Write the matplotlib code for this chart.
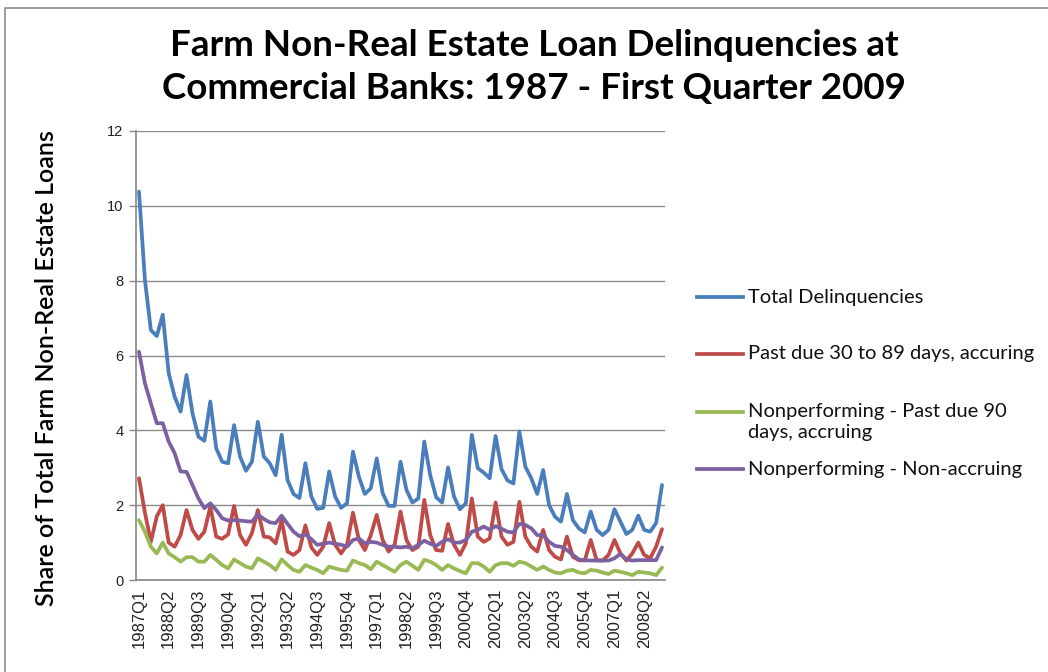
import matplotlib
matplotlib.use("Agg")
import matplotlib.pyplot as plt
from matplotlib.lines import Line2D
import numpy as np

# ---- data -------------------------------------------------------------
years = list(range(1987, 2010))
quarters = [f"{y}Q{q}" for y in years for q in range(1, 5)][:89]  # 1987Q1 .. 2009Q1

total = [10.38, 8.02, 6.68, 6.52, 7.09, 5.53, 4.90, 4.50, 5.48, 4.46, 3.83, 3.72,
         4.77, 3.52, 3.16, 3.12, 4.14, 3.30, 2.92, 3.16, 4.23, 3.30, 3.12, 2.80,
         3.88, 2.67, 2.30, 2.19, 3.12, 2.23, 1.90, 1.93, 2.90, 2.23, 1.93, 2.05,
         3.43, 2.76, 2.30, 2.45, 3.25, 2.32, 1.98, 1.98, 3.16, 2.41, 2.07, 2.18,
         3.70, 2.80, 2.21, 2.07, 3.01, 2.23, 1.89, 2.05, 3.88, 2.99, 2.87, 2.72,
         3.85, 2.96, 2.66, 2.58, 3.97, 3.03, 2.72, 2.30, 2.94, 2.00, 1.69, 1.56,
         2.30, 1.60, 1.38, 1.27, 1.83, 1.34, 1.20, 1.34, 1.89, 1.56, 1.23, 1.34,
         1.72, 1.34, 1.29, 1.52, 2.54]

past_due_30_89 = [2.72, 1.80, 1.02, 1.70, 2.00, 1.00, 0.89, 1.20, 1.87, 1.34, 1.10, 1.29,
                  1.96, 1.16, 1.10, 1.22, 1.98, 1.20, 0.94, 1.25, 1.87, 1.16, 1.14, 0.98,
                  1.60, 0.76, 0.67, 0.80, 1.46, 0.87, 0.67, 0.89, 1.52, 0.94, 0.71, 0.94,
                  1.80, 1.07, 0.80, 1.20, 1.74, 1.07, 0.76, 0.94, 1.83, 1.07, 0.80, 0.89,
                  2.14, 1.20, 0.80, 0.78, 1.50, 0.94, 0.67, 0.98, 2.18, 1.16, 1.02, 1.11,
                  2.07, 1.16, 0.94, 1.02, 2.09, 1.16, 0.89, 0.76, 1.34, 0.80, 0.62, 0.55,
                  1.16, 0.62, 0.53, 0.52, 1.07, 0.53, 0.52, 0.67, 1.07, 0.71, 0.52, 0.71,
                  1.00, 0.67, 0.58, 0.89, 1.36]

past_due_90 = [1.60, 1.29, 0.89, 0.71, 1.00, 0.71, 0.61, 0.49, 0.61, 0.61, 0.49, 0.49,
               0.67, 0.54, 0.40, 0.31, 0.55, 0.45, 0.36, 0.31, 0.58, 0.49, 0.40, 0.27,
               0.55, 0.40, 0.27, 0.22, 0.40, 0.33, 0.27, 0.18, 0.36, 0.31, 0.27, 0.25,
               0.52, 0.45, 0.40, 0.29, 0.49, 0.40, 0.31, 0.22, 0.40, 0.49, 0.38, 0.27,
               0.54, 0.49, 0.40, 0.27, 0.40, 0.31, 0.24, 0.18, 0.45, 0.45, 0.36, 0.22,
               0.40, 0.45, 0.45, 0.38, 0.49, 0.45, 0.36, 0.27, 0.36, 0.27, 0.20, 0.18,
               0.25, 0.27, 0.20, 0.18, 0.27, 0.25, 0.20, 0.16, 0.25, 0.22, 0.18, 0.13,
               0.22, 0.20, 0.18, 0.13, 0.33]

non_accruing = [6.10, 5.26, 4.72, 4.19, 4.19, 3.70, 3.39, 2.90, 2.89, 2.54, 2.18, 1.92,
                2.05, 1.87, 1.65, 1.59, 1.60, 1.59, 1.57, 1.56, 1.75, 1.63, 1.54, 1.52,
                1.72, 1.50, 1.29, 1.17, 1.22, 1.09, 0.94, 0.97, 1.00, 0.97, 0.94, 0.89,
                1.07, 1.11, 0.98, 1.02, 1.00, 0.94, 0.89, 0.89, 0.87, 0.89, 0.85, 0.94,
                1.05, 0.97, 0.91, 1.02, 1.09, 1.00, 1.00, 1.07, 1.29, 1.34, 1.43, 1.34,
                1.44, 1.37, 1.29, 1.27, 1.50, 1.47, 1.38, 1.20, 1.20, 1.02, 0.91, 0.89,
                0.80, 0.67, 0.55, 0.53, 0.52, 0.52, 0.52, 0.52, 0.58, 0.70, 0.55, 0.52,
                0.53, 0.53, 0.53, 0.53, 0.87]

series_names = ["Total Delinquencies",
                "Past due 30 to 89 days, accuring",
                "Nonperforming - Past due 90\ndays, accruing",
                "Nonperforming - Non-accruing"]
series_colors = ["#4A7EBB", "#BE4B48", "#98B954", "#7D60A0"]
y_ticks = [0, 2, 4, 6, 8, 10, 12]
title_lines = ["Farm Non-Real Estate Loan Delinquencies at",
               "Commercial Banks: 1987 - First Quarter 2009"]

# ---- figure -----------------------------------------------------------
W, H = 1048, 672
fig = plt.figure(figsize=(W / 100, H / 100), dpi=100)
fig.patch.set_facecolor("white")

def fx(px):
    return px / W

def fy(py):
    return 1 - py / H

# outer chart border
fig.add_artist(Line2D([fx(5), fx(5), fx(1047)], [fy(672), fy(8), fy(8)],
                      transform=fig.transFigure, color="#8C8C8C", lw=1.2))

ax = fig.add_axes([fx(136), fy(580), fx(665) - fx(136), fy(131) - fy(580)])

x = np.arange(len(quarters))
data = [total, past_due_30_89, past_due_90, non_accruing]
for vals, col, name in zip(data, series_colors, series_names):
    ax.plot(x, vals, color=col, lw=2.7, solid_joinstyle="round",
            solid_capstyle="round", label=name, zorder=3)

ax.set_xlim(-0.5, len(quarters) - 0.5)
ax.set_ylim(0, 12)
ax.set_yticks(y_ticks)
ax.set_yticklabels([str(v) for v in y_ticks], fontsize=10.5,
                   family="Liberation Sans", color="#222222")
ax.set_xticks(x[::5])
ax.set_xticklabels(quarters[::5], rotation=90, fontsize=12,
                   family="Liberation Sans", color="#222222")
ax.tick_params(axis="x", length=0, pad=6)
ax.tick_params(axis="y", length=5, width=1, color="#868686", pad=4)

ax.grid(axis="y", color="#8C8C8C", lw=1)
ax.set_axisbelow(True)
for s in ["top", "right"]:
    ax.spines[s].set_visible(False)
for s in ["left", "bottom"]:
    ax.spines[s].set_color("#868686")
    ax.spines[s].set_linewidth(1.2)

ax.set_ylabel("Share of Total Farm Non-Real Estate Loans", family="Lato",
              fontsize=18, color="black", weight="semibold")
ax.yaxis.set_label_coords((58 - 136) / 529, (580 - 368) / 449)

for line, ty in zip(title_lines, [46, 88]):
    fig.text(fx(534), fy(ty), line, ha="center", va="center", family="Lato",
             weight="bold", fontsize=26.5, color="black")

# legend (drawn by hand to mimic the spreadsheet layout)
legend_y = [297, 354, 412, 469]
for name, col, ly in zip(series_names, series_colors, legend_y):
    fig.add_artist(Line2D([fx(697), fx(743)], [fy(ly), fy(ly)],
                          transform=fig.transFigure, color=col, lw=2.7))
    if "\n" in name:
        fig.text(fx(748), fy(ly - 9), name, ha="left", va="top",
                 family="Lato", fontsize=14.5, color="#111111", linespacing=1.3)
    else:
        fig.text(fx(748), fy(ly), name, ha="left", va="center",
                 family="Lato", fontsize=14.5, color="#111111")

fig.savefig("out.png", dpi=100, facecolor="white")
